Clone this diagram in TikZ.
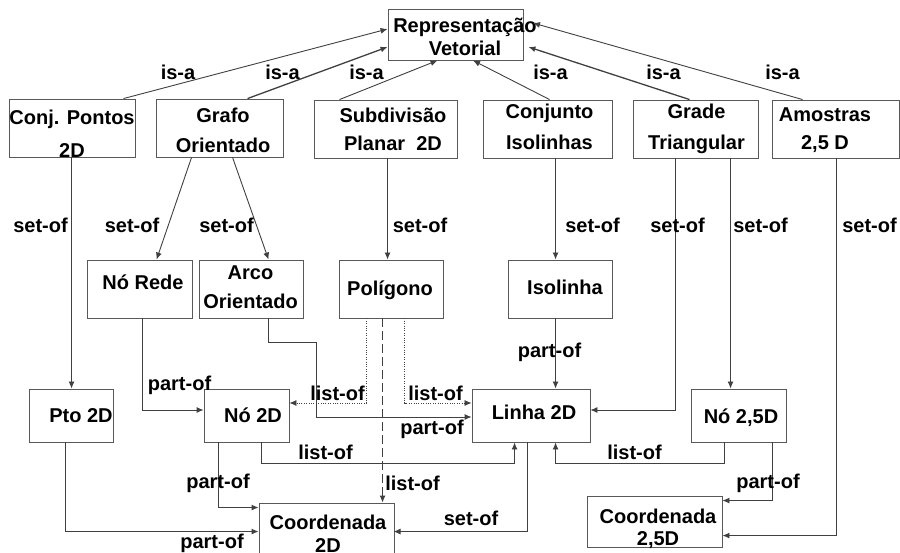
\documentclass[tikz,border=0pt]{standalone}
\usepackage{fontspec}
\setmainfont{Liberation Sans}
\usetikzlibrary{arrows.meta,calc}
\tikzset{
  box/.style={draw=black!65, line width=0.9pt, rectangle, inner sep=0pt},
  txt/.style={font=\bfseries\fontsize{20}{24}\selectfont, inner sep=0pt, align=center, text=black},
  lbl/.style={font=\bfseries\fontsize{20}{24}\selectfont, inner sep=0pt, anchor=base, text=black},
  conn/.style={draw=black!75, line width=0.9pt, -{Latex[length=7pt,width=6pt]}},
  heavyconn/.style={conn, line width=1.3pt},
  dotconn/.style={conn, line width=0.8pt, dash pattern=on 1pt off 1.4pt},
  dashconn/.style={conn, dash pattern=on 9pt off 4pt}
}
\newcommand\mybox[5]{\node[box, minimum width={(#4-#2)*1pt}, minimum height={(#5-#3)*1pt}] (#1) at ({(#2+#4)/2},{(#3+#5)/2}) {};}
\begin{document}
\begin{tikzpicture}[x=1pt,y=-1pt]
\useasboundingbox (0,0) rectangle (900,553);
% boxes
\mybox{rep}{388}{9}{523}{60}
\mybox{conj}{9}{99}{135}{157}
\mybox{grafo}{156}{99}{283}{157}
\mybox{subd}{314}{100}{457}{158}
\mybox{conjI}{483}{100}{612}{158}
\mybox{grade}{633}{100}{758}{158}
\mybox{amo}{772}{100}{899}{158}
\mybox{nrede}{87}{260}{192}{318}
\mybox{arco}{199}{260}{303}{318}
\mybox{pol}{339}{260}{443}{318}
\mybox{isol}{508}{260}{612}{318}
\mybox{pto}{29}{389}{113}{442}
\mybox{no2}{204}{389}{289}{442}
\mybox{linha}{472}{389}{590}{442}
\mybox{no25}{691}{389}{786}{442}
\mybox{coordA}{259}{503}{394}{565}
\mybox{coordB}{587}{496}{722}{547}
% box texts
\node[txt] (repT) at (465,36.5) {Representação\\[-1pt]Vetorial};
\node[txt] (conjT) at (72,133.5) {Conj. Pontos\\[9pt]2D};
\node[txt] (grafoT) at (223,130) {Grafo\\[6pt]Orientado};
\node[txt] (subdT) at (393,129) {Subdivisão\\[4pt]Planar\ \ 2D};
\node[txt] (conjIT) at (549.5,126.5) {Conjunto\\[7pt]Isolinhas};
\node[txt] (gradeT) at (696.5,128.5) {Grade\\[7pt]Triangular};
\node[txt] (amoT) at (825,130.5) {Amostras\\[4pt]2,5 D};
\node[lbl] (nredeT) at (143,290) {Nó Rede};
\node[txt] (arcoT) at (250.5,287.5) {Arco\\[5pt]Orientado};
\node[lbl] (polT) at (390,296) {Polígono};
\node[lbl] (isolT) at (565,295) {Isolinha};
\node[lbl] (ptoT) at (81,422) {Pto 2D};
\node[lbl] (no2T) at (253,422) {Nó 2D};
\node[lbl] (linhaT) at (534,420) {Linha 2D};
\node[lbl] (no25T) at (741,423) {Nó 2,5D};
\node[txt] (coordAT) at (328,533.5) {Coordenada\\[-1pt]2D};
\node[txt] (coordBT) at (658,528.5) {Coordenada\\[-2pt]2,5D};
% is-a
\coordinate (repo) at (533,23);
\draw[conn] ($(conj.north west)+(115,0)$) -- ($(rep.west)+(0,-5.5)$);
\draw[heavyconn] ($(grafo.north west)+(92,0)$) -- ($(rep.west)+(0,12.5)$);
\draw[conn] ($(subd.north west)+(26,0)$) -- ($(rep.south)+(-18,0)$);
\draw[conn] ($(conjI.north west)+(67,0)$) -- ($(rep.south)+(17.5,0)$);
\draw[heavyconn] ($(grade.north west)+(57,0)$) -- ($(rep.east)+(5,12.5)$);
\draw[conn] ($(amo.north west)+(31,0)$) -- (repo);
\node[lbl] (isa1) at (178,80) {is-a};
\node[lbl] (isa2) at (282.5,80) {is-a};
\node[lbl] (isa3) at (366.5,80) {is-a};
\node[lbl] (isa4) at (550.5,80) {is-a};
\node[lbl] (isa5) at (663.5,80) {is-a};
\node[lbl] (isa6) at (782.5,80) {is-a};
% set-of
\draw[conn] ($(conj.south west)+(63,0)$) coordinate (s1) -- (s1 |- pto.north);
\draw[conn] ($(grafo.south west)+(36,0)$) -- ($(nrede.north west)+(70,0)$);
\draw[conn] ($(grafo.south west)+(77,0)$) -- ($(arco.north west)+(70,0)$);
\draw[conn] ($(subd.south west)+(74,0)$) coordinate (s2) -- (s2 |- pol.north);
\draw[conn] ($(conjI.south west)+(73,0)$) coordinate (s3) -- (s3 |- isol.north);
\draw[conn] ($(grade.south west)+(43,0)$) |- ($(linha.east)+(0,-5.5)$);
\draw[conn] ($(grade.south west)+(98,0)$) coordinate (s4) -- (s4 |- no25.north);
\draw[conn] ($(amo.south west)+(65,0)$) |- ($(coordB.north east)+(0,40)$);
\draw[conn] ($(linha.south west)+(56,0)$) |- ($(coordA.north west)+(135,29)$);
\node[lbl] (so1) at (40.5,233) {set-of};
\node[lbl] (so2) at (132,233) {set-of};
\node[lbl] (so3) at (226.5,233) {set-of};
\node[lbl] (so4) at (420,233) {set-of};
\node[lbl] (so5) at (592.5,233) {set-of};
\node[lbl] (so6) at (677.5,233) {set-of};
\node[lbl] (so7) at (760.5,233) {set-of};
\node[lbl] (so8) at (869.5,233) {set-of};
\node[lbl] (so9) at (471,525) {set-of};
% part-of
\draw[conn] ($(isol.south west)+(48,0)$) coordinate (p1) -- (p1 |- linha.north);
\draw[conn] ($(nrede.south west)+(56,0)$) |- ($(no2.west)+(0,-5.5)$);
\draw[conn] ($(arco.south west)+(70,0)$) -- ++(0,24) -- ++(48,0) |- ($(linha.west)+(0,1.5)$);
\draw[conn] ($(no2.south west)+(15,0)$) |- ($(coordA.north west)+(0,5)$);
\draw[conn] ($(pto.south west)+(37,0)$) |- ($(coordA.north west)+(0,29)$);
\draw[conn] ($(no25.south west)+(82,0)$) |- ($(coordB.north east)+(0,5)$);
\node[lbl] (po1) at (549.5,358) {part-of};
\node[lbl] (po2) at (179.5,390) {part-of};
\node[lbl] (po3) at (432,435) {part-of};
\node[lbl] (po4) at (218,488) {part-of};
\node[lbl] (po5) at (212,548) {part-of};
\node[lbl] (po6) at (768,488) {part-of};
% list-of
\draw[dotconn] ($(pol.south west)+(28,0)$) |- ($(no2.east)+(0,-12.5)$);
\draw[dotconn] ($(pol.south west)+(66,0)$) |- ($(linha.west)+(0,-12.5)$);
\draw[dashconn] ($(pol.south west)+(44,0)$) coordinate (d1) -- (d1 |- coordA.north);
\draw[conn] ($(no2.south west)+(58,0)$) |- ($(linha.south west)+(43,21)$) -- ($(linha.south west)+(43,0)$);
\draw[conn] ($(no25.south west)+(34,0)$) |- ($(linha.south west)+(84,21)$) -- ($(linha.south west)+(84,0)$);
\node[lbl] (lo1) at (337.5,400) {list-of};
\node[lbl] (lo2) at (435.5,400) {list-of};
\node[lbl] (lo3) at (412.5,490) {list-of};
\node[lbl] (lo4) at (325.5,459) {list-of};
\node[lbl] (lo5) at (634.5,459) {list-of};
\end{tikzpicture}
\end{document}
